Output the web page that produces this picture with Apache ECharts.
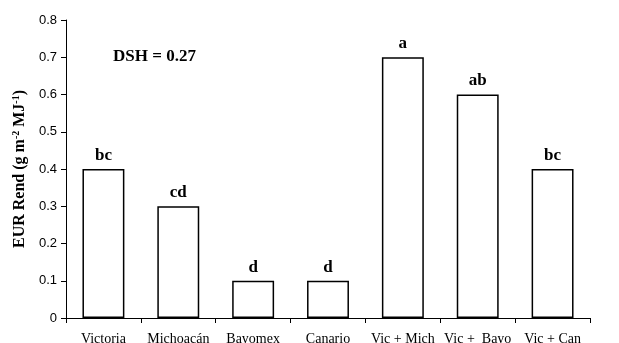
<!DOCTYPE html>
<html>
<head>
<meta charset="utf-8">
<script src="https://cdn.jsdelivr.net/npm/echarts@6/dist/echarts.min.js"></script>
<style>
  html, body { margin: 0; padding: 0; background: #fff; }
  #chart { width: 619px; height: 343px; }
</style>
</head>
<body>
<div id="chart"></div>
<script>
// Cultivars and their mixtures
const categories = ['Victoria', 'Michoacán', 'Bayomex', 'Canario', 'Vic + Mich', 'Vic +  Bayo', 'Vic + Can'];
// Radiation use efficiency for yield (g m-2 MJ-1)
const eurValues = [0.4, 0.3, 0.1, 0.1, 0.7, 0.6, 0.4];
// Mean-comparison letters
const groupLetters = ['bc', 'cd', 'd', 'd', 'a', 'ab', 'bc'];
const dshText = 'DSH = 0.27';

const serif = '"Liberation Serif", "Times New Roman", serif';
const sans = '"Liberation Sans", Arial, sans-serif';

const chart = echarts.init(document.getElementById('chart'), null, { renderer: 'canvas' });
chart.setOption({
  backgroundColor: '#fff',
  animation: false,
  grid: { left: 66, right: 29, top: 20, bottom: 25, containLabel: false, outerBoundsMode: 'none' },
  graphic: [{
    type: 'text',
    left: 113,
    top: 48,
    style: { text: dshText, font: 'bold 17px ' + serif, fill: '#000' }
  }],
  xAxis: {
    type: 'category',
    data: categories,
    axisLine: { lineStyle: { color: '#000', width: 1 } },
    axisTick: { show: true, alignWithLabel: false, length: 5, lineStyle: { color: '#000' } },
    axisLabel: { color: '#000', fontFamily: serif, fontSize: 14, margin: 14, interval: 0 }
  },
  yAxis: {
    type: 'value',
    min: 0,
    max: 0.8,
    interval: 0.1,
    name: '{b|EUR Rend (g m}{s|-2}{b| MJ}{s|-1}{b|)}',
    nameLocation: 'middle',
    nameGap: 31,
    nameRotate: 90,
    nameTextStyle: {
      rich: {
        b: { fontFamily: serif, fontWeight: 'bold', fontSize: 16, color: '#000' },
        s: { fontFamily: serif, fontWeight: 'bold', fontSize: 10, color: '#000', verticalAlign: 'top', padding: [0, 0, 8, 0] }
      }
    },
    splitLine: { show: false },
    axisLine: { show: true, lineStyle: { color: '#000', width: 1 } },
    axisTick: { show: true, length: 5, lineStyle: { color: '#000' } },
    axisLabel: {
      color: '#000', fontFamily: sans, fontSize: 13, margin: 9,
      formatter: v => (v === 0 ? '0' : v.toFixed(1))
    }
  },
  series: [{
    type: 'bar',
    data: eurValues,
    barWidth: '56%',
    itemStyle: { color: '#fff', borderColor: '#000', borderWidth: 1.5 },
    label: {
      show: true,
      position: 'top',
      distance: 5,
      color: '#000',
      fontFamily: serif,
      fontWeight: 'bold',
      fontSize: 17,
      formatter: p => groupLetters[p.dataIndex]
    }
  }]
});
</script>
</body>
</html>
